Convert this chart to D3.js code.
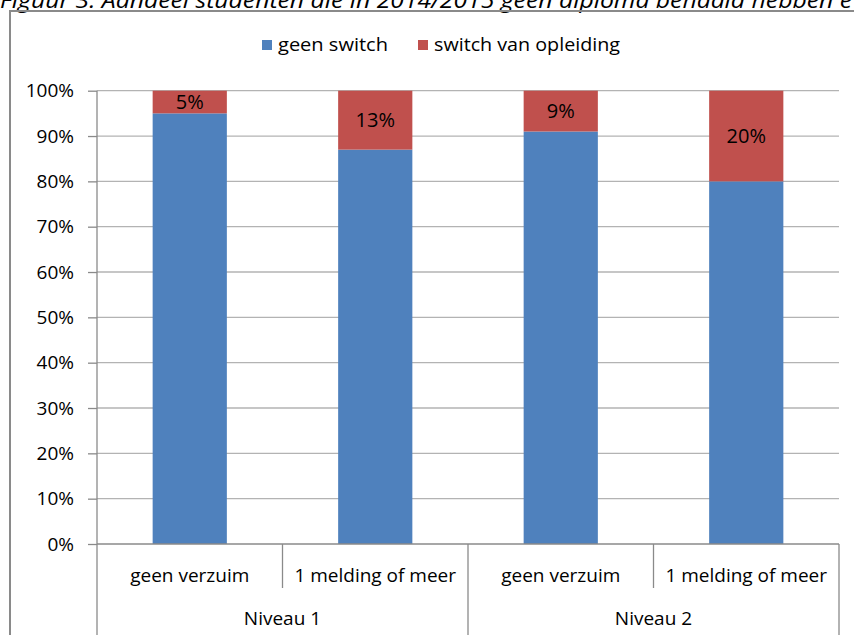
<!DOCTYPE html>
<html>
<head>
<meta charset="utf-8">
<script src="https://cdn.jsdelivr.net/npm/d3@7"></script>
<style>
body{margin:0;background:#fff;overflow:hidden}
text{font-family:"Open Sans",Lato,sans-serif;fill:#000}
</style>
</head>
<body>
<svg id="chart" width="854" height="635"></svg>
<script>
// data
var groups = ["Niveau 1","Niveau 2"]
var subcats = ["geen verzuim","1 melding of meer"]
var geenSwitch = [95,87,91,80]
var switchOpl = [5,13,9,20]
var seriesNames = ["geen switch","switch van opleiding"]
var colors = ["#4f81bd","#c0504d"]
var yTicks = [0,10,20,30,40,50,60,70,80,90,100]

var svg = d3.select("#chart")

// title, cut off at the top like the source
svg.append("text").text("Figuur 3: Aandeel studenten die in 2014/2015 geen diploma behaald hebben e")
    .attr("x",0).attr("y",8)
    .attr("font-size",21).attr("font-style","italic")
    .attr("textLength",852).attr("lengthAdjust","spacingAndGlyphs")

// chart frame
svg.append("rect").attr("x",10).attr("y",11).attr("width",860).attr("height",640)
    .attr("fill","none").attr("stroke","#8a8a8a").attr("stroke-width",2)

var plotL = 97, plotR = 839, plotT = 90.7, plotB = 544
var cats = []
groups.forEach(function(g){ subcats.forEach(function(s){ cats.push(g+"|"+s) }) })

var x = d3.scaleBand().domain(cats).range([plotL,plotR])
var y = d3.scaleLinear().domain([0,100]).range([plotB,plotT])

// gridlines
svg.append("g").selectAll("line").data(yTicks.slice(1)).enter().append("line")
    .attr("x1",plotL).attr("x2",plotR)
    .attr("y1",function(d){return y(d)}).attr("y2",function(d){return y(d)})
    .attr("stroke","#b3b3b3").attr("stroke-width",1.3)

// y axis
var yAxis = d3.axisLeft(y).tickValues(yTicks).tickSize(9).tickPadding(14)
    .tickFormat(function(d){return d+"%"})
var ya = svg.append("g").attr("transform","translate("+plotL+",0)").call(yAxis)
ya.select(".domain").attr("stroke","#8a8a8a").attr("stroke-width",1.3).attr("d","M0,"+plotT+"V"+plotB)
ya.selectAll(".tick line").attr("stroke","#8a8a8a").attr("stroke-width",1.3)
ya.selectAll(".tick text").attr("font-size",19).attr("font-family","Open Sans").attr("fill","#000")

// stacked bars
var bw = x.bandwidth()*0.4
var stackData = cats.map(function(c,i){return {cat:c,a:geenSwitch[i],b:switchOpl[i]}})
var stack = d3.stack().keys(["a","b"])(stackData)
svg.append("g").selectAll("g").data(stack).enter().append("g")
    .attr("fill",function(d,i){return colors[i]})
    .selectAll("rect").data(function(d){return d}).enter().append("rect")
    .attr("x",function(d){return x(d.data.cat)+(x.bandwidth()-bw)/2})
    .attr("width",bw)
    .attr("y",function(d){return y(d[1])})
    .attr("height",function(d){return y(d[0])-y(d[1])})

// value labels for switch
svg.append("g").selectAll("text").data(stack[1]).enter().append("text")
    .attr("x",function(d){return x(d.data.cat)+x.bandwidth()/2})
    .attr("y",function(d){return (y(d[0])+y(d[1]))/2})
    .attr("dy","0.35em").attr("text-anchor","middle").attr("font-size",20)
    .text(function(d){return d.data.b+"%"})

// x axis baseline
svg.append("line").attr("x1",plotL).attr("x2",plotR).attr("y1",plotB).attr("y2",plotB)
    .attr("stroke","#8a8a8a").attr("stroke-width",1.3)

// category separators and labels
cats.forEach(function(c,i){
    var x0 = x(c)
    var full = (i % subcats.length === 0)
    svg.append("line").attr("x1",x0).attr("x2",x0).attr("y1",plotB).attr("y2",full?640:588)
        .attr("stroke","#8a8a8a").attr("stroke-width",1.3)
    svg.append("text").text(c.split("|")[1])
        .attr("x",x0+x.bandwidth()/2).attr("y",575).attr("dy","0.35em")
        .attr("text-anchor","middle").attr("font-size",19)
})
svg.append("line").attr("x1",plotR).attr("x2",plotR).attr("y1",plotB).attr("y2",640)
    .attr("stroke","#8a8a8a").attr("stroke-width",1.3)
groups.forEach(function(g,i){
    var x0 = x(g+"|"+subcats[0])
    svg.append("text").text(g)
        .attr("x",x0+x.bandwidth()).attr("y",618).attr("dy","0.35em")
        .attr("text-anchor","middle").attr("font-size",19)
})

// legend
var legX = [262,418]
var legW = [110,186]
seriesNames.forEach(function(n,i){
    svg.append("rect").attr("x",legX[i]).attr("y",40).attr("width",10).attr("height",10).attr("fill",colors[i])
    svg.append("text").text(n).attr("x",legX[i]+16).attr("y",44).attr("dy","0.35em")
        .attr("font-size",19).attr("textLength",legW[i]).attr("lengthAdjust","spacingAndGlyphs")
})
</script>
</body>
</html>
